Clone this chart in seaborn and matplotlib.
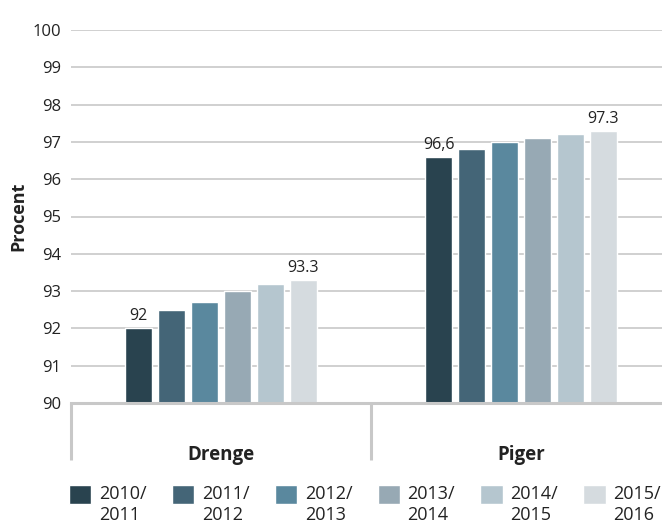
import matplotlib
matplotlib.use("Agg")
import matplotlib.pyplot as plt
import seaborn as sns
import pandas as pd
from matplotlib.patches import Rectangle
from matplotlib.legend_handler import HandlerPatch
from matplotlib.transforms import blended_transform_factory

# data
groups = ["Drenge", "Piger"]
years = ["2010/2011", "2011/2012", "2012/2013", "2013/2014", "2014/2015", "2015/2016"]
drenge = [92.0, 92.5, 92.7, 93.0, 93.2, 93.3]
piger = [96.6, 96.8, 97.0, 97.1, 97.2, 97.3]
first_labels = ["92", "96,6"]
last_labels = ["93.3", "97.3"]
colors = ["#29434f", "#446577", "#5a889e", "#97a9b4", "#b5c6cf", "#d5dbdf"]

df = pd.DataFrame({
    "gruppe": [g for g in groups for _ in years],
    "aar": years * 2,
    "procent": drenge + piger,
})

sns.set_style("white")
plt.rcParams["font.family"] = ["Open Sans", "DejaVu Sans"]
grid_col = "#c8c8c8"
txt_col = "#222222"

fig = plt.figure(figsize=(6.62, 5.22), dpi=100)
ax = fig.add_axes([71 / 662, 119 / 522, 600 / 662, 373 / 522])

sns.barplot(data=df, x="gruppe", y="procent", hue="aar", palette=colors,
            width=0.66, gap=0.18, saturation=1, ax=ax)

ax.set_ylim(90, 100)
ax.set_xlim(-0.5, 1.5)
ax.set_yticks(range(90, 101))
ax.yaxis.grid(True, color=grid_col, lw=1.2)
ax.set_axisbelow(True)
for s in ["top", "right", "left"]:
    ax.spines[s].set_visible(False)
ax.spines["bottom"].set_color(grid_col)
ax.spines["bottom"].set_linewidth(2.2)

ax.tick_params(axis="both", length=0, colors=txt_col)
ax.tick_params(axis="y", pad=7, labelsize=12)
ax.tick_params(axis="x", pad=30, labelsize=13.5)
for t in ax.get_xticklabels():
    t.set_fontweight("bold")
ax.set_xlabel("")
ax.set_ylabel("Procent", fontweight="bold", fontsize=13, color=txt_col)
ax.yaxis.set_label_coords(-0.073, 0.5)

# group separators below the axis
trans = blended_transform_factory(ax.transData, ax.transAxes)
for b in [-0.5, 0.5]:
    ax.plot([b, b], [0, -0.153], transform=trans, color=grid_col, lw=2.2,
            clip_on=False, solid_capstyle="butt")

ax.bar_label(ax.containers[0], labels=first_labels, padding=3, fontsize=11.5, color=txt_col)
ax.bar_label(ax.containers[-1], labels=last_labels, padding=3, fontsize=11.5, color=txt_col)

handles, _ = ax.get_legend_handles_labels()
ax.get_legend().remove()


def square(legend, orig_handle, xdescent, ydescent, width, height, fontsize):
    return Rectangle((-xdescent, -ydescent + 0.6 * fontsize), width, height)


leg = fig.legend(handles, [y.replace("/", "/\n") for y in years], ncol=6,
                 loc="upper left", bbox_to_anchor=(69 / 662, 0.071),
                 frameon=False, fontsize=13, borderpad=0, borderaxespad=0,
                 handlelength=1.22, handleheight=1.22, handletextpad=0.44,
                 columnspacing=1.4,
                 handler_map={h: HandlerPatch(patch_func=square) for h in handles})
for t in leg.get_texts():
    t.set_color(txt_col)

fig.savefig("out.png", dpi=100)
